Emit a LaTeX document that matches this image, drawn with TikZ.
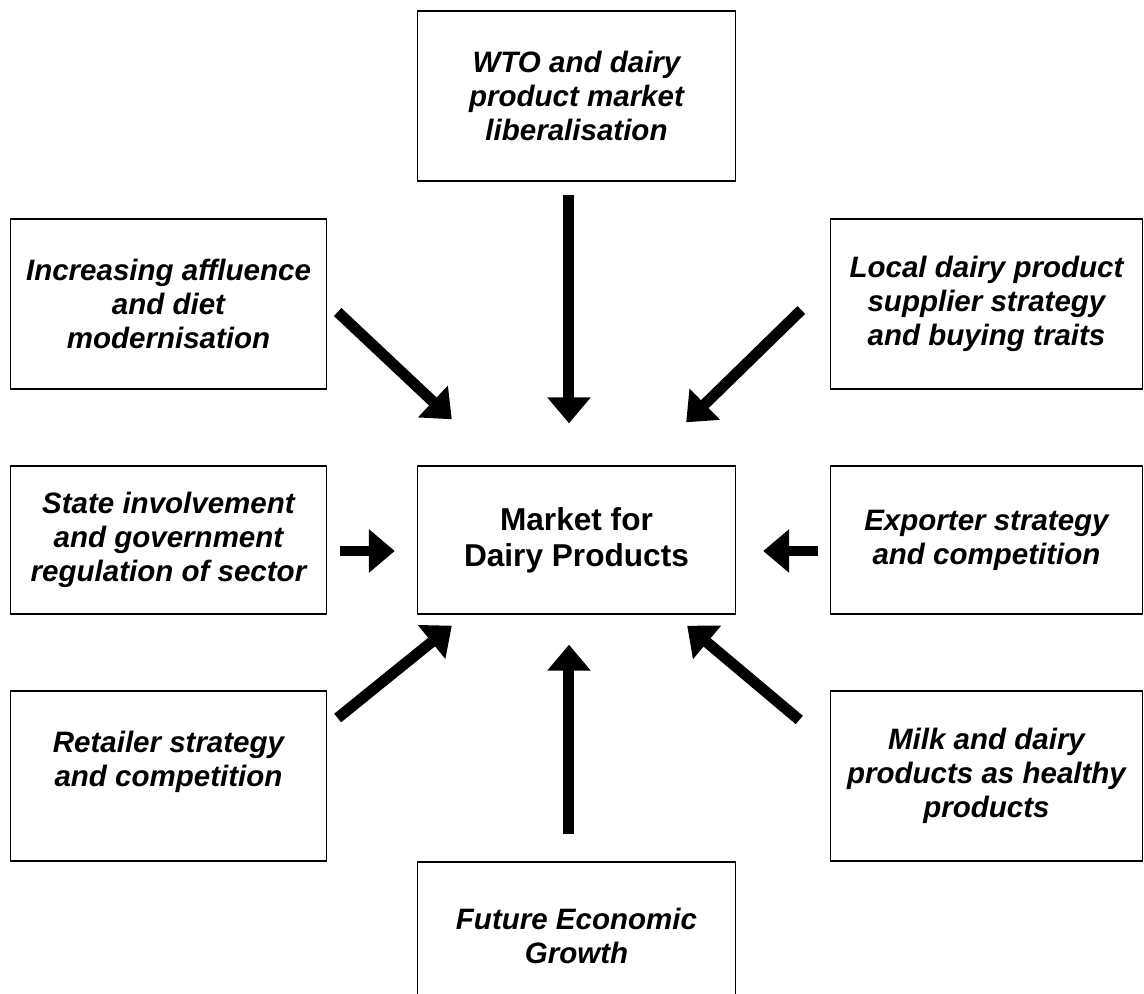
\documentclass[tikz,border=0pt]{standalone}
\usepackage{fontspec}
\setmainfont{Liberation Sans}
\usetikzlibrary{arrows.meta}

\begin{document}
\begin{tikzpicture}[x=0.02cm, y=0.02cm,
    factor/.style={draw, line width=0.8pt, align=center, inner sep=0pt,
      font=\fontsize{16.8}{19.4}\selectfont\bfseries\itshape},
    lcol/.style={minimum width=6.32cm},
    rcol/.style={minimum width=6.24cm},
    ccol/.style={minimum width=6.36cm},
    tall/.style={minimum height=3.4cm},
    flat/.style={minimum height=2.96cm},
    push/.style={line width=0.22cm, -{Triangle[width=0.84cm, length=0.52cm]}}]
    \useasboundingbox (-576.5,-454) rectangle (567.5,540);
    \clip (-576.5,-454) rectangle (567.5,540);
    \node[factor, ccol, flat, font=\fontsize{18}{20.5}\selectfont\bfseries] (mkt) {Market for\\Dairy Products};
    \node[factor, ccol, tall] (wto) at ([shift={(   0, 444)}] mkt) {WTO and dairy\\product market\\liberalisation};
    \node[factor, lcol, tall] (aff) at ([shift={(-408, 236)}] mkt) {Increasing affluence\\and diet\\modernisation};
    \node[factor, rcol, tall] (loc) at ([shift={( 410, 236)}] mkt) {Local dairy product\\supplier strategy\\and buying traits};
    \node[factor, lcol, flat] (sta) at ([shift={(-408,   0)}] mkt) {State involvement\\and government\\regulation of sector};
    \node[factor, rcol, flat] (exp) at ([shift={( 410,   0)}] mkt) {Exporter strategy\\and competition};
    \node[factor, lcol, tall] (ret) at ([shift={(-408,-236)}] mkt) {Retailer strategy\\and competition\\~};
    \node[factor, rcol, tall] (milk) at ([shift={( 410,-236)}] mkt) {Milk and dairy\\products as healthy\\products};
    \node[factor, ccol, flat] (grw) at ([shift={(   0,-396)}] mkt) {Future Economic\\Growth};
    % influences on the market
    \draw[push] ([shift={(-7.5,-13.5)}] wto.south) to ([shift={(-7.5,42)}] mkt.north);
    \draw[push] ([shift={(-7.5,27)}] grw.north)    to ([shift={(-7.5,-30)}] mkt.south);
    \draw[push] ([shift={(12.5,-11)}] sta.east)    to ([shift={(-22,-11)}] mkt.west);
    \draw[push] ([shift={(-11.5,-11)}] exp.west)   to ([shift={(27,-11)}] mkt.east);
    \draw[push] ([shift={(10.5,-8)}] aff.east)     to ([shift={(35,46)}] mkt.north west);
    \draw[push] ([shift={(-28.5,-6)}] loc.west)    to ([shift={(-50,43)}] mkt.north east);
    \draw[push] ([shift={(10.5,58)}] ret.east)     to ([shift={(35,-11)}] mkt.south west);
    \draw[push] ([shift={(-30.5,56)}] milk.west)   to ([shift={(-49,-11)}] mkt.south east);
  \end{tikzpicture}
\end{document}
